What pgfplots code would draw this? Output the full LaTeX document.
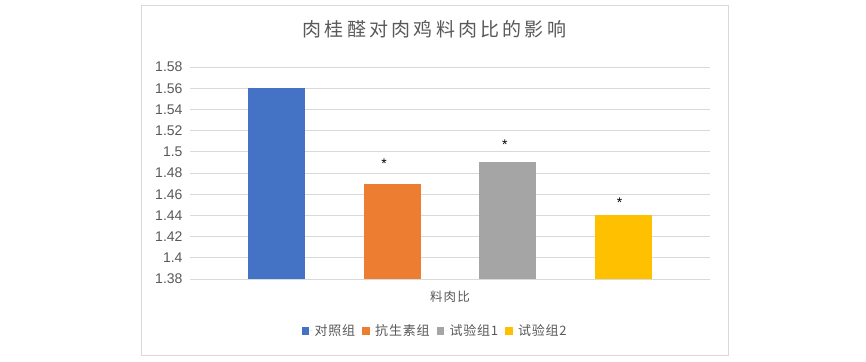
\documentclass[border=0pt]{standalone}
\usepackage{pgfplots}
\pgfplotsset{compat=1.18}
\usepackage{fontspec}
\setmainfont{Liberation Sans}
\newfontfamily\cjk{Noto Sans CJK SC}
\newfontfamily\cjktitle[LetterSpace=17]{Noto Sans CJK SC}
\newfontfamily\cjksp[LetterSpace=9]{Noto Sans CJK SC}
\newfontfamily\cjkleg[LetterSpace=6]{Noto Sans CJK SC}
\definecolor{c1}{HTML}{4472C4}
\definecolor{c2}{HTML}{ED7D31}
\definecolor{c3}{HTML}{A5A5A5}
\definecolor{c4}{HTML}{FFC000}
\definecolor{txt}{HTML}{595959}
\definecolor{grd}{HTML}{D9D9D9}
\begin{document}
\begin{tikzpicture}
\useasboundingbox (0pt,0pt) rectangle (866pt,361pt);
\fill[white] (0pt,0pt) rectangle (866pt,361pt);
\draw[grd] (141pt,6pt) rectangle (728pt,356pt);
\begin{axis}[
  at={(190pt,82pt)}, anchor=south west,
  scale only axis, width=520pt, height=212pt,
  xmin=-260, xmax=260, ymin=1.38, ymax=1.58,
  ytick={1.38,1.40,1.42,1.44,1.46,1.48,1.50,1.52,1.54,1.56,1.58},
  xtick={0}, xticklabels={料肉比},
  ybar=58.7pt, bar width=57pt,
  ymajorgrids, grid style={grd, line width=0.75pt},
  axis line style={draw=none},
  major tick length=0pt,
  /pgf/number format/assume math mode=true,
  yticklabel style={font=\fontsize{14}{14}\selectfont, text=txt, xshift=-4pt},
  xticklabel style={font=\cjksp\fontsize{12.5}{13}\selectfont, text=txt, anchor=center, yshift=-18pt},
  title={\cjktitle\fontsize{19}{22}\selectfont 肉桂醛对肉鸡料肉比的影响},
  title style={at={(0.470,1.151)}, anchor=center, text=txt},
  legend columns=4,
  legend style={draw=none, at={(0.4715,-0.245)}, anchor=center, font=\cjkleg\fontsize{13}{14}\selectfont, text=txt,
    /tikz/every even column/.append style={column sep=5pt}},
  legend image code/.code={\fill[#1] (0pt,-4pt) rectangle (7.5pt,3.5pt); \path (0pt,0pt) -- (11pt,0pt);},
  nodes near coords style={font=\fontsize{14}{14}\selectfont, text=black},
]
\addplot[fill=c1, draw=none] coordinates {(0,1.56)};
\addplot[fill=c2, draw=none, nodes near coords={*}, nodes near coords style={xshift=-8pt, yshift=12pt}] coordinates {(0,1.47)};
\addplot[fill=c3, draw=none, nodes near coords={*}, nodes near coords style={xshift=-3pt, yshift=9pt}] coordinates {(0,1.49)};
\addplot[fill=c4, draw=none, nodes near coords={*}, nodes near coords style={xshift=-4pt, yshift=4pt}] coordinates {(0,1.44)};
\legend{对照组,抗生素组,试验组1,试验组2}
\end{axis}
\end{tikzpicture}
\end{document}
